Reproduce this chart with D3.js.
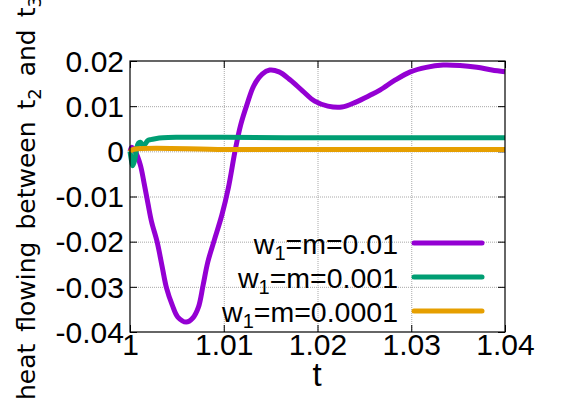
<!DOCTYPE html>
<html><head><meta charset="utf-8">
<script src="https://cdn.jsdelivr.net/npm/d3@7"></script>
<style>
html,body{margin:0;padding:0;background:#fff;}
svg{display:block;}
</style>
</head><body>
<svg id="chart" width="563" height="412"></svg>
<script>
// ---- data ----
const xTicks = [1, 1.01, 1.02, 1.03, 1.04];
const xTickLabels = ["1", "1.01", "1.02", "1.03", "1.04"];
const yTicks = [0.02, 0.01, 0, -0.01, -0.02, -0.03, -0.04];
const yTickLabels = ["0.02", "0.01", "0", "-0.01", "-0.02", "-0.03", "-0.04"];

const seriesNames = ["0.01", "0.001", "0.0001"];
const seriesColors = ["#9400d3", "#009e73", "#e69f00"];

const tPurple = [1.0000,1.0002,1.0006,1.0011,1.0015,1.0019,1.0023,1.0029,1.0034,1.0039,1.0045,1.0051,1.0060,1.0067,1.0073,1.0078,1.0083,1.0090,1.0098,1.0105,1.0112,1.0118,1.0125,1.0132,1.0141,1.0149,1.0159,1.0171,1.0184,1.0197,1.0211,1.0226,1.0241,1.0256,1.0267,1.0283,1.0299,1.0316,1.0334,1.0352,1.0370,1.0386,1.0400];
const vPurple = [0.0000,0.0009,-0.0002,-0.0030,-0.0070,-0.0114,-0.0156,-0.0201,-0.0252,-0.0303,-0.0340,-0.0367,-0.0378,-0.0369,-0.0345,-0.0296,-0.0245,-0.0196,-0.0141,-0.0080,0.0000,0.0058,0.0105,0.0145,0.0171,0.0180,0.0176,0.0158,0.0134,0.0111,0.0100,0.0098,0.0109,0.0124,0.0136,0.0158,0.0176,0.0186,0.0191,0.0190,0.0186,0.0180,0.0176];

const tGreen = [1.0000,1.0002,1.0003,1.0005,1.0007,1.0009,1.0011,1.0014,1.0016,1.0019,1.0022,1.0027,1.0035,1.0050,1.0100,1.0200,1.0300,1.0400];
const vGreen = [0.0000,-0.0025,-0.0032,-0.0020,0.0005,0.0018,0.0020,0.0013,0.0016,0.0024,0.0026,0.0028,0.0030,0.0031,0.0031,0.0030,0.0030,0.0030];

const tOrange = [1.0000,1.0003,1.0100,1.0200,1.0300,1.0400];
const vOrange = [-0.0001,0.0004,0.0004,0.0004,0.0004,0.0004];

const seriesT = [tPurple, tGreen, tOrange];
const seriesV = [vPurple, vGreen, vOrange];

// ---- layout ----
const svg = d3.select("#chart");
const L = 130, R = 505, T = 61, B = 332;
const x = d3.scaleLinear().domain([1, 1.04]).range([L, R]);
const y = d3.scaleLinear().domain([-0.04, 0.02]).range([B, T]);

const tickFont = "'Liberation Sans', Arial, sans-serif";
const tickSize = "30px";

// grid
const gridX = xTicks.filter(d => d > 1 && d < 1.04);
const gridY = yTicks.filter(d => d < 0.02 && d > -0.04);
svg.append("g").attr("transform", `translate(0,${B})`)
  .call(d3.axisBottom(x).tickValues(gridX).tickSize(-(B - T)).tickFormat(""))
  .call(g => g.select(".domain").remove())
  .call(g => g.selectAll("line").attr("stroke", "#a8a8a8").attr("stroke-dasharray", "1,1"));
svg.append("g").attr("transform", `translate(${L},0)`)
  .call(d3.axisLeft(y).tickValues(gridY).tickSize(-(R - L)).tickFormat(""))
  .call(g => g.select(".domain").remove())
  .call(g => g.selectAll("line").attr("stroke", "#a8a8a8").attr("stroke-dasharray", "1,1"));

// axes
const tk = 7;
const gl = svg.append("g").attr("transform", `translate(${L},0)`)
  .call(d3.axisLeft(y).tickValues(yTicks).tickFormat((d, i) => yTickLabels[i]).tickSizeInner(-tk).tickSizeOuter(0).tickPadding(6));
const gr = svg.append("g").attr("transform", `translate(${R},0)`)
  .call(d3.axisRight(y).tickValues(yTicks).tickFormat("").tickSizeInner(-tk).tickSizeOuter(0));
const gb = svg.append("g").attr("transform", `translate(0,${B})`)
  .call(d3.axisBottom(x).tickValues(xTicks).tickFormat((d, i) => xTickLabels[i]).tickSizeInner(-tk).tickSizeOuter(0).tickPadding(1));
const gt = svg.append("g").attr("transform", `translate(0,${T})`)
  .call(d3.axisTop(x).tickValues(xTicks).tickFormat("").tickSizeInner(-tk).tickSizeOuter(0));
[gl, gr, gb, gt].forEach(g => {
  g.select(".domain").remove();
  g.selectAll("line").attr("stroke", "#000").attr("stroke-width", 1);
  g.selectAll("text").attr("fill", "#000").style("font-family", tickFont).style("font-size", tickSize);
});
gl.selectAll("text").attr("dy", "0.34em");
gb.selectAll("text").attr("dy", "0.72em");

// curves
const clipId = "plotclip";
svg.append("defs").append("clipPath").attr("id", clipId)
  .append("rect").attr("x", L - 4).attr("y", T - 4).attr("width", R - L + 8).attr("height", B - T + 8);
const line = d3.line().x(d => x(d[0])).y(d => y(d[1])).curve(d3.curveCatmullRom.alpha(0.5));
seriesT.forEach((ts, i) => {
  const pts = ts.map((t, j) => [t, seriesV[i][j]]);
  svg.append("path").datum(pts)
    .attr("d", line)
    .attr("fill", "none")
    .attr("stroke", seriesColors[i])
    .attr("stroke-width", 5)
    .attr("stroke-linejoin", "round")
    .attr("stroke-linecap", "butt")
    .attr("clip-path", `url(#${clipId})`);
});

// border
svg.append("rect").attr("x", L).attr("y", T).attr("width", R - L).attr("height", B - T)
  .attr("fill", "none").attr("stroke", "#000").attr("stroke-width", 1.2);

// legend
const legY0 = 243, legDy = 34;
const leg = svg.append("g");
seriesNames.forEach((name, i) => {
  const yy = legY0 + i * legDy;
  const txt = leg.append("text")
    .attr("x", 398).attr("y", yy + 11)
    .attr("text-anchor", "end")
    .style("font-family", tickFont).style("font-size", "28.5px").attr("fill", "#000");
  txt.append("tspan").text("w");
  txt.append("tspan").attr("dy", 6).style("font-size", "20px").text("1");
  txt.append("tspan").attr("dy", -6).text("=m=" + name);
  leg.append("line").attr("x1", 414).attr("x2", 482).attr("y1", yy).attr("y2", yy)
    .attr("stroke", seriesColors[i]).attr("stroke-width", 5).attr("stroke-linecap", "round");
});

// axis titles
svg.append("text").attr("x", 317).attr("y", 386).attr("text-anchor", "middle")
  .style("font-family", tickFont).style("font-size", "33px").text("t");

const yl = svg.append("text")
  .attr("transform", "translate(35,400) rotate(-90)")
  .attr("text-anchor", "start")
  .style("font-family", "'DejaVu Sans', sans-serif").style("font-size", "25px")
  .style("word-spacing", "4px").attr("fill", "#000");
yl.append("tspan").text("heat flowing between t");
yl.append("tspan").attr("dy", 6).style("font-size", "18px").text("2");
yl.append("tspan").attr("dy", -6).text(" and t");
yl.append("tspan").attr("dy", 6).style("font-size", "18px").text("3");
</script>
</body></html>
